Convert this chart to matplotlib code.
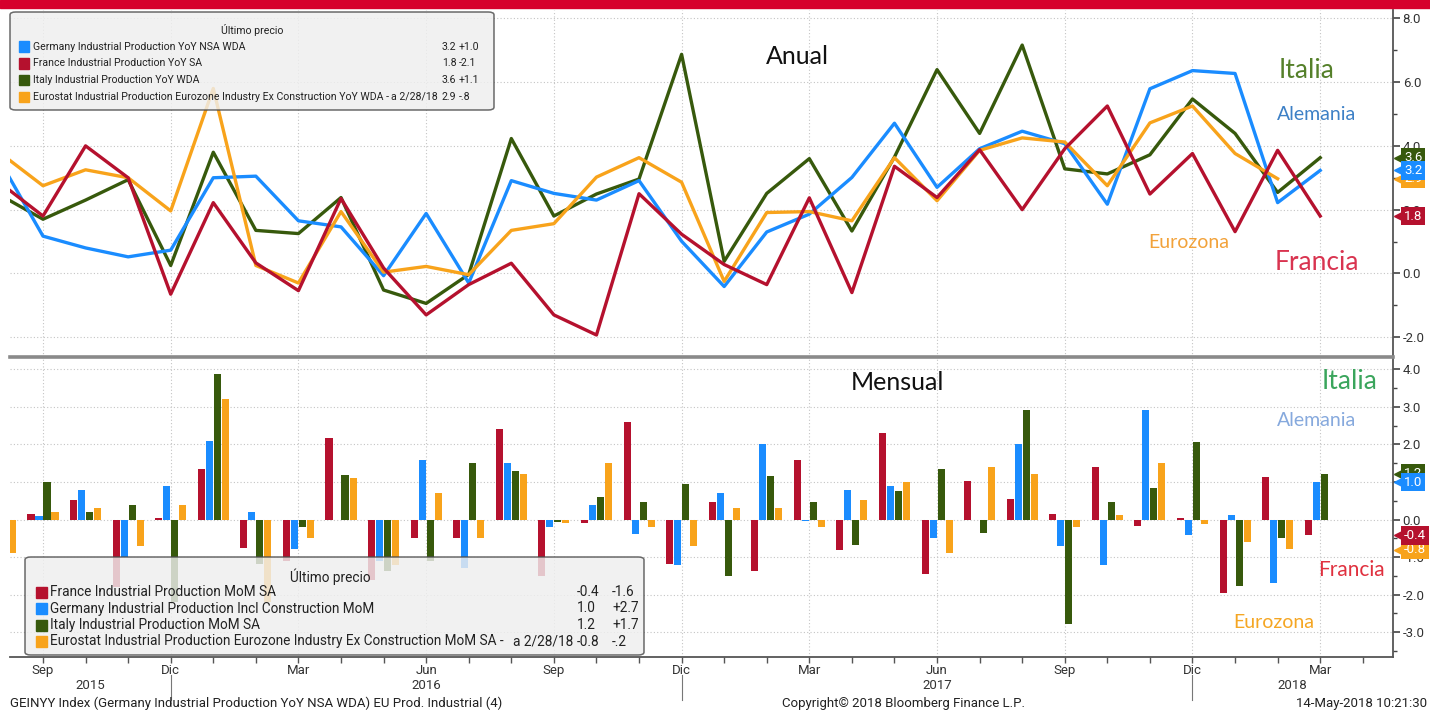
import numpy as np
import matplotlib
matplotlib.use("Agg")
import matplotlib.pyplot as plt
from matplotlib.patches import Rectangle, FancyBboxPatch
from matplotlib.transforms import blended_transform_factory as blend

# x = months counted from Sep 2015 (-1 = Aug 2015 ... 30 = Mar 2018)
months = np.arange(-1, 31)
nan = np.nan

# --- year on year (top panel) ---
germany_yoy = [3.5, 1.17, 0.8, 0.52, 0.73, 3.0, 3.05, 1.65, 1.46, -0.07, 1.88,
               -0.3, 2.91, 2.51, 2.3, 2.91, 1.01, -0.41, 1.3, 1.86, 3.01,
               4.71, 2.7, 3.91, 4.46, 4.07, 2.17, 5.79, 6.36, 6.27, 2.22, 3.23]
france_yoy = [2.83, 1.8, 4.0, 3.0, -0.65, 2.22, 0.33, -0.54, 2.35, 0.17, -1.3,
              -0.35, 0.32, -1.3, -1.93, 2.5, 1.23, 0.28, -0.35, 2.37, -0.6,
              3.36, 2.38, 3.88, 2.0, 3.91, 5.25, 2.49, 3.76, 1.31, 3.86, 1.8]
italy_yoy = [2.45, 1.7, 2.3, 2.94, 0.25, 3.8, 1.35, 1.25, 2.38, -0.52, -0.94,
             -0.03, 4.23, 1.8, 2.49, 2.96, 6.87, 0.38, 2.51, 3.6, 1.33,
             3.65, 6.39, 4.39, 7.16, 3.28, 3.12, 3.72, 5.47, 4.39, 2.54, 3.63]
euro_yoy = [3.77, 2.75, 3.25, 3.0, 1.96, 5.8, 0.25, -0.3, 1.94, 0.04, 0.22,
            -0.04, 1.35, 1.56, 3.02, 3.63, 2.86, -0.25, 1.91, 1.94, 1.65,
            3.63, 2.28, 3.86, 4.25, 4.12, 2.75, 4.72, 5.25, 3.76, 2.97, nan]

# --- month on month (bottom panel) ---
france_mom = [nan, 0.16, 0.53, -1.8, 0.05, 1.35, -0.77, -1.1, 2.18, -1.62, -0.48,
              -0.48, 2.4, -1.49, -0.1, 2.59, -1.19, 0.48, -1.38, 1.6, -0.81,
              2.3, -1.44, 1.02, 0.54, 0.16, 1.41, -0.18, 0.05, -1.95, 1.13, -0.42]
germany_mom = [nan, 0.09, 0.79, -1.0, 0.9, 2.09, 0.2, -0.79, -0.02, -1.1, 1.6,
               -1.28, 1.5, -0.2, 0.39, -0.39, -1.22, 0.7, 2.0, -0.03, 0.78,
               0.9, -0.5, -0.02, 2.01, -0.7, -1.22, 2.91, -0.41, 0.11, -1.7, 1.0]
italy_mom = [nan, 1.0, 0.2, 0.39, -2.2, 3.87, -1.19, -0.2, 1.19, -1.38, -1.1,
             1.5, 1.3, -0.07, 0.59, 0.48, 0.96, -1.51, 1.15, 0.48, -0.68,
             0.77, 1.35, -0.36, 2.93, -2.77, 0.48, 0.84, 2.07, -1.76, -0.48, 1.22]
euro_mom = [-0.9, 0.2, 0.31, -0.7, 0.39, 3.2, -2.2, -0.5, 1.1, -1.22, 0.7,
            -0.5, 1.22, -0.1, 1.5, -0.2, -0.7, 0.32, 0.32, -0.2, 0.51,
            0.99, -0.9, 1.41, 1.22, -0.2, 0.11, 1.5, -0.12, -0.6, -0.79, nan]

yoy_names = ["Germany Industrial Production YoY NSA WDA",
             "France Industrial Production YoY SA",
             "Italy Industrial Production YoY WDA",
             "Eurostat Industrial Production Eurozone Industry Ex Construction YoY WDA -"]
yoy_dates = ["", "", "", "a 2/28/18"]
yoy_last = ["3.2", "1.8", "3.6", "2.9"]
yoy_chg = ["+1.0", "-2.1", "+1.1", "-.8"]

mom_names = ["France Industrial Production MoM SA",
             "Germany Industrial Production Incl Construction MoM",
             "Italy Industrial Production MoM SA",
             "Eurostat Industrial Production Eurozone Industry Ex Construction MoM SA -"]
mom_dates = ["", "", "", "a 2/28/18"]
mom_last = ["-0.4", "1.0", "1.2", "-0.8"]
mom_chg = ["-1.6", "+2.7", "+1.7", "-.2"]

tick_months = list(range(0, 31, 3))
tick_labels = ["Sep", "Dic", "Mar", "Jun", "Sep", "Dic", "Mar", "Jun", "Sep", "Dic", "Mar"]
years = ["2015", "2016", "2017", "2018"]
year_pos = [1.1, 9, 21, 29.35]
year_breaks = [3, 15, 27]

BLUE = "#1a8cff"
RED = "#b5112e"
GREEN = "#37590c"
ORANGE = "#f8a31b"

NARROW = ["Roboto", "DejaVu Sans"]
NICE = ["Lato", "DejaVu Sans"]
TXT = "#333333"

W, H = 1430, 711
fig = plt.figure(figsize=(W / 100, H / 100), dpi=100)


def fx(p):
    return p / W


def fy(p):
    return 1 - p / H


ax1 = fig.add_axes([fx(10), fy(357), fx(1393) - fx(10), fy(10) - fy(357)])
ax2 = fig.add_axes([fx(10), fy(657), fx(1393) - fx(10), fy(357) - fy(657)], sharex=ax1)

# red banner
fig.patches.append(Rectangle((0, fy(8)), 1, 8 / H, transform=fig.transFigure,
                             color="#d6002c", zorder=5))

grid_kw = dict(color="#c4c4c4", lw=0.8, linestyle=(0, (1, 2)))

# ---------- top panel ----------
ax1.plot(months, italy_yoy, color=GREEN, lw=2.4, zorder=3)
ax1.plot(months, germany_yoy, color=BLUE, lw=2.4, zorder=3)
ax1.plot(months, euro_yoy, color=ORANGE, lw=2.4, zorder=3)
ax1.plot(months, france_yoy, color=RED, lw=2.4, zorder=3)
ax1.set_xlim(-0.775, 31.71)
ax1.set_ylim(-2.62, 8.26)
ax1.set_yticks([-2, 0, 2, 4, 6, 8])
ax1.set_yticks(np.arange(-2, 9, 1), minor=True)

# ---------- bottom panel ----------
bw = 0.165
offs = [-0.282, -0.094, 0.094, 0.282]
for off, vals, col in zip(offs, [france_mom, germany_mom, italy_mom, euro_mom],
                          [RED, BLUE, GREEN, ORANGE]):
    ax2.bar(months + off, vals, width=bw, color=col, zorder=3)
ax2.set_ylim(-3.66, 4.33)
ax2.set_yticks([-3, -2, -1, 0, 1, 2, 3, 4])
ax2.set_yticks(np.arange(-3.5, 4.5, 0.5), minor=True)

for ax in (ax1, ax2):
    ax.yaxis.tick_right()
    ax.yaxis.set_major_formatter(matplotlib.ticker.FormatStrFormatter("%.1f"))
    ax.tick_params(axis="y", which="major", length=5, width=1.2, color="#444",
                   labelsize=9.5, labelcolor=TXT, pad=2)
    ax.tick_params(axis="y", which="minor", length=3, width=1, color="#444")
    for lab in ax.get_yticklabels():
        lab.set_family(NARROW)
    ax.grid(True, which="major", **grid_kw)
    ax.set_axisbelow(True)
    for s in ("left", "top", "bottom"):
        ax.spines[s].set_visible(False)
    ax.spines["right"].set_color("#555555")
    ax.spines["right"].set_linewidth(1.3)

ax1.tick_params(axis="x", which="both", length=0, labelbottom=False)
ax2.spines["top"].set_visible(True)
ax2.spines["top"].set_color("#8a8a8a")
ax2.spines["top"].set_linewidth(2.6)
ax2.spines["bottom"].set_visible(True)
ax2.spines["bottom"].set_color("#555555")
ax2.spines["bottom"].set_linewidth(1.3)
ax2.set_xticks(tick_months)
ax2.set_xticklabels(tick_labels, family=NARROW, fontsize=9.5, color=TXT)
ax2.set_xticks(range(0, 32), minor=True)
ax2.tick_params(axis="x", which="both", length=4, width=1, color="#555", pad=1)

# year labels and separators
tr = blend(ax2.transData, ax2.transAxes)
for yr, xp in zip(years, year_pos):
    ax2.text(xp, -0.094, yr, transform=tr, ha="center", va="center",
             family=NARROW, fontsize=9.5, color=TXT)
for xb in year_breaks:
    ax2.plot([xb, xb], [-0.06, -0.144], transform=tr, color="#777", lw=0.8,
             clip_on=False)


# ---------- value tags on the right ----------
def tag(ax, val, text, col, z):
    t = blend(ax.transAxes, ax.transData)
    ax.plot([1.004], [val], marker="<", ms=7.5, color=col, transform=t,
            clip_on=False, zorder=z)
    ax.text(1.008, val, text, transform=t, ha="left", va="center", color="white",
            family=NARROW, fontsize=9.5, zorder=z, clip_on=False,
            bbox=dict(boxstyle="square,pad=0.22", fc=col, ec="none"))


tag(ax1, 3.63, "3.6", GREEN, 10)
tag(ax1, 2.97, "2.9", ORANGE, 11)
tag(ax1, 3.23, "3.2", BLUE, 12)
tag(ax1, 1.8, "1.8", RED, 12)
tag(ax2, 1.22, "1.2", GREEN, 10)
tag(ax2, 1.0, "1.0", BLUE, 12)
tag(ax2, -0.8, "-0.8", ORANGE, 10)
tag(ax2, -0.42, "-0.4", RED, 12)

# ---------- annotations ----------
fig.text(fx(797), fy(57), "Anual", ha="center", va="center",
         family=NICE, fontsize=18, color="#111")
fig.text(fx(1307), fy(71), "Italia", ha="center", va="center", family=NICE,
         fontsize=19, color="#55802a")
fig.text(fx(1317), fy(115), "Alemania", ha="center", va="center", family=NICE,
         fontsize=14, color="#3d80c6")
fig.text(fx(1189), fy(242), "Eurozona", ha="center", va="center", family=NICE,
         fontsize=14, color="#f2a23a")
fig.text(fx(1317), fy(262), "Francia", ha="center", va="center", family=NICE,
         fontsize=19, color="#d93450")
fig.text(fx(897), fy(383), "Mensual", ha="center", va="center", family=NICE,
         fontsize=18, color="#111")
fig.text(fx(1350), fy(382), "Italia", ha="center", va="center", family=NICE,
         fontsize=19, color="#3aa55c")
fig.text(fx(1317), fy(420), "Alemania", ha="center", va="center", family=NICE,
         fontsize=14, color="#86a9dd")
fig.text(fx(1351), fy(570), "Francia", ha="center", va="center", family=NICE,
         fontsize=15, color="#e0313f")
fig.text(fx(1274), fy(622), "Eurozona", ha="center", va="center", family=NICE,
         fontsize=14, color="#f5a623")


# ---------- legends ----------
def legend_box(x0, y0, x1, y1, title_x, title_y, rows_y, sq_x, txt_x, val_x, chg_x,
               names, dates, lasts, chgs, cols, fs, sq):
    fig.patches.append(FancyBboxPatch((fx(x0), fy(y1)), fx(x1 - x0), (y1 - y0) / H,
                                      boxstyle="round,pad=0,rounding_size=0.004",
                                      transform=fig.transFigure, fc="#efefef",
                                      ec="#4a4a4a", lw=1.1, alpha=0.82, zorder=6))
    fig.text(fx(title_x), fy(title_y), "Último precio", ha="center", va="center",
             family=NARROW, fontsize=fs, color="#222", zorder=7)
    for ry, name, dt, last, chg, col in zip(rows_y, names, dates, lasts, chgs, cols):
        fig.patches.append(Rectangle((fx(sq_x), fy(ry + sq / 2)), fx(sq), sq / H,
                                     transform=fig.transFigure, color=col, zorder=7))
        fig.text(fx(txt_x), fy(ry), name, ha="left", va="center", family=NARROW,
                 fontsize=fs, color="#222", zorder=7)
        fig.text(fx(val_x - 4), fy(ry), dt, ha="right", va="center", family=NARROW,
                 fontsize=fs, color="#222", zorder=7)
        fig.text(fx(val_x), fy(ry), last, ha="left", va="center", family=NARROW,
                 fontsize=fs, color="#222", zorder=7)
        fig.text(fx(chg_x), fy(ry), chg, ha="left", va="center", family=NARROW,
                 fontsize=fs, color="#222", zorder=7)


legend_box(10, 12, 494, 110, 252, 30, [46.5, 63.5, 80, 97], 19, 33, 442, 459,
           yoy_names, yoy_dates, yoy_last, yoy_chg, [BLUE, RED, GREEN, ORANGE], 7.6, 10)
legend_box(25, 557, 644, 655, 330, 577, [592, 608.5, 625, 641.5], 36, 50, 577, 612,
           mom_names, mom_dates, mom_last, mom_chg, [RED, BLUE, GREEN, ORANGE], 9.8, 11)

# ---------- footer ----------
fig.text(fx(10), fy(703), "GEINYY Index (Germany Industrial Production YoY NSA WDA) EU Prod. Industrial (4)",
         ha="left", va="center", family=NARROW, fontsize=9.5, color="#222")
fig.text(fx(782), fy(703), "Copyright\u00a9 2018 Bloomberg Finance L.P.",
         ha="left", va="center", family=NARROW, fontsize=9.5, color="#222")
fig.text(fx(1427), fy(703), "14-May-2018 10:21:30",
         ha="right", va="center", family=NARROW, fontsize=9.5, color="#222")

fig.savefig("out.png", dpi=100)
